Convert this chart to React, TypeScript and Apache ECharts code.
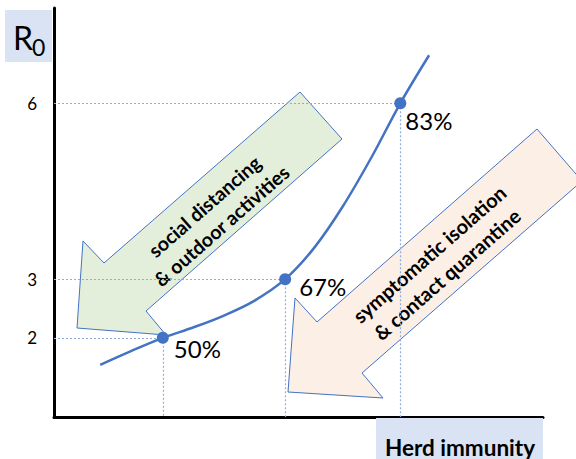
import React, { useEffect, useRef } from "react";
import * as echarts from "echarts";

// Key points: herd immunity threshold (%) vs basic reproduction number R0
const immunity = [50, 67, 83];
const r0 = [2, 3, 6];
const r0Ticks = [2, 3, 6];

// Curve (herd immunity %, R0)
const curveImmunity = [41.3, 45.5, 50, 54.3, 58.5, 62.7, 67, 71, 75, 79, 83, 87];
const curveR0 = [1.54, 1.77, 2, 2.18, 2.38, 2.63, 3, 3.53, 4.24, 5.08, 6, 6.82];

const arrowTexts = ["social distancing\n& outdoor activities", "symptomatic isolation\n& contact quarantine"];
const yName = "R";
const ySub = "0";
const xName = "Herd immunity";

const X_MIN = 34.88;
const X_MAX = 102.83;
const Y_MIN = 0.649;
const Y_MAX = 7.626;
const FONT = "Lato, 'Open Sans', sans-serif";
const BLUE = "#4472c4";
const labelOffsets = [[0, 11], [3, 7], [-6, 17]];

export default function App() {
  const ref = useRef<HTMLDivElement>(null);
  useEffect(() => {
    document.body.style.margin = "0";
    const chart = echarts.init(ref.current!, null, { renderer: "svg" });
    const rot = (41.2 * Math.PI) / 180;
    const option: any = {
      animation: false,
      backgroundColor: "#ffffff",
      grid: { left: 54, right: 33, top: 8, bottom: 42 },
      xAxis: {
        type: "value",
        min: X_MIN,
        max: X_MAX,
        axisLine: { show: true, onZero: false, lineStyle: { color: "#000", width: 3 } },
        axisTick: { show: false },
        axisLabel: { show: false },
        splitLine: { show: false },
      },
      yAxis: {
        type: "value",
        min: Y_MIN,
        max: Y_MAX,
        axisLine: { show: true, onZero: false, lineStyle: { color: "#000", width: 3 } },
        axisTick: { show: false },
        splitLine: { show: false },
        axisLabel: {
          customValues: r0Ticks,
          color: "#000",
          fontSize: 17,
          fontFamily: FONT,
          margin: 17,
        },
      },
      graphic: {
        elements: [
          { type: "rect", z: 1, shape: { x: 5, y: 10, width: 47, height: 52 }, style: { fill: "#dae3f3" } },
          { type: "text", z: 3, x: 13, y: 37, style: { text: yName, fontSize: 32, fontFamily: FONT, fill: "#000", align: "left", verticalAlign: "middle" } },
          { type: "text", z: 3, x: 32, y: 47, style: { text: ySub, fontSize: 23, fontFamily: FONT, fill: "#000", align: "left", verticalAlign: "middle" } },
          { type: "rect", z: 1, shape: { x: 376, y: 418, width: 167, height: 41 }, style: { fill: "#dae3f3" } },
          { type: "text", z: 3, x: 460, y: 447, style: { text: xName, fontSize: 22.5, fontWeight: "bold", fontFamily: FONT, fill: "#000", align: "center", verticalAlign: "middle" } },
          {
            type: "polygon",
            z: 1,
            shape: { points: [[300, 92], [342, 139], [146, 311], [166, 335], [77, 328], [83, 241], [104, 263]] },
            style: { fill: "#e4efdb", stroke: BLUE, lineWidth: 1 },
          },
          {
            type: "polygon",
            z: 1,
            shape: { points: [[537, 129], [582, 181], [362, 373], [383, 398], [288, 392], [295, 298], [317, 322]] },
            style: { fill: "rgba(251,233,222,0.75)", stroke: BLUE, lineWidth: 1 },
          },
          {
            type: "text", z: 3, x: 213, y: 216, rotation: rot,
            style: { text: arrowTexts[0], fontSize: 19.5, fontWeight: "bold", fontFamily: FONT, fill: "#000", align: "center", verticalAlign: "middle", lineHeight: 26 },
          },
          {
            type: "text", z: 3, x: 438, y: 264, rotation: rot,
            style: { text: arrowTexts[1], fontSize: 20, fontWeight: "bold", fontFamily: FONT, fill: "#000", align: "center", verticalAlign: "middle", lineHeight: 27 },
          },
        ],
      },
      series: [
        {
          type: "line",
          smooth: 0.35,
          showSymbol: false,
          symbol: "none",
          z: 4,
          lineStyle: { color: BLUE, width: 2.5 },
          data: curveImmunity.map((h, i) => [h, curveR0[i]]),
        },
        {
          type: "scatter",
          z: 5,
          symbolSize: 12,
          itemStyle: { color: BLUE, opacity: 1 },
          label: {
            show: true,
            position: "right",
            distance: 5,
            color: "#000",
            fontSize: 24,
            fontFamily: FONT,
            formatter: (p: any) => `${immunity[p.dataIndex]}%`,
          },
          data: immunity.map((h, i) => ({ value: [h, r0[i]], label: { offset: labelOffsets[i] } })),
          markLine: {
            silent: true,
            symbol: ["none", "none"],
            label: { show: false },
            lineStyle: { color: "#8faadc", width: 1.2, type: [2, 2] },
            data: [
              ...immunity.map((h, i) => [{ coord: [X_MIN, r0[i]] }, { coord: [h, r0[i]] }]),
              ...immunity.map((h, i) => [{ coord: [h, r0[i]] }, { coord: [h, Y_MIN] }]),
            ],
          },
        },
      ],
    };
    chart.setOption(option);
    return () => chart.dispose();
  }, []);
  return <div ref={ref} style={{ width: 576, height: 459 }} />;
}
